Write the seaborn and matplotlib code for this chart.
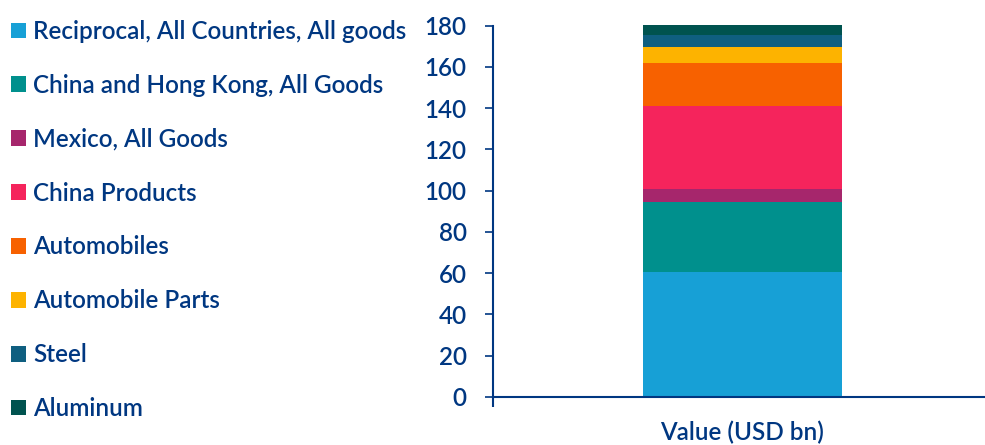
import matplotlib
matplotlib.use("Agg")
import matplotlib.pyplot as plt
from matplotlib.patches import Patch
import numpy as np
import pandas as pd
import seaborn as sns

# stacked segments, bottom to top
segments = [
    "Reciprocal, All Countries, All goods",
    "China and Hong Kong, All Goods",
    "Mexico, All Goods",
    "China Products",
    "Automobiles",
    "Automobile Parts",
    "Steel",
    "Aluminum",
]
values = [60.5, 34.0, 6.1, 40.3, 21.2, 7.7, 5.8, 4.9]
colors = ["#17a0d6", "#00908d", "#a6266c", "#f5245c", "#f76100", "#fdb300", "#0f5f80", "#00534f"]
category = "Value (USD bn)"
yticks = [0, 20, 40, 60, 80, 100, 120, 140, 160, 180]

NAVY = "#003781"

sns.set_theme(style="white")
plt.rcParams["font.family"] = ["Lato", "DejaVu Sans"]
plt.rcParams["font.weight"] = "semibold"

df = pd.DataFrame({"segment": segments, "value": values, "color": colors})
df["cum"] = df["value"].cumsum()
df["measure"] = category

fig = plt.figure(figsize=(9.85, 4.45), dpi=100)
ax = fig.add_axes([0.5005, 0.1079, 0.4995, 0.8438])

# draw cumulative totals from the top down so each segment shows as a stack
for _, row in df.iloc[::-1].iterrows():
    sns.barplot(x=[row["measure"]], y=[row["cum"]], color=row["color"],
                saturation=1, width=0.405, errorbar=None, ax=ax, linewidth=0)

x_left = -0.507
ax.set_ylim(0, 182)
ax.set_xlim(x_left, x_left + 1)
ax.set_yticks(yticks)
ax.set_xlabel("")
ax.set_ylabel("")

for side in ["top", "right"]:
    ax.spines[side].set_visible(False)
ax.spines["left"].set_bounds(0, 180)
for side in ["left", "bottom"]:
    ax.spines[side].set_color(NAVY)
    ax.spines[side].set_linewidth(1.5)

ax.tick_params(axis="y", direction="out", length=6, width=1.2, color=NAVY,
               labelcolor=NAVY, labelsize=17.5, pad=13, left=True)
ax.tick_params(axis="x", which="major", length=0, labelcolor=NAVY, labelsize=17.5, pad=17)
ax.set_xticks([x_left], minor=True)
ax.tick_params(axis="x", which="minor", direction="out", length=7, width=1.5,
               color=NAVY, bottom=True)

handles = [Patch(facecolor=c, edgecolor="none") for c in colors]
fig.legend(handles, segments, loc="upper left", bbox_to_anchor=(0.011, 0.955),
           frameon=False, fontsize=17.5, labelcolor=NAVY, handlelength=0.62,
           handleheight=0.62, handletextpad=0.3, labelspacing=1.27,
           borderpad=0, borderaxespad=0)

fig.savefig("out.png", dpi=100)
